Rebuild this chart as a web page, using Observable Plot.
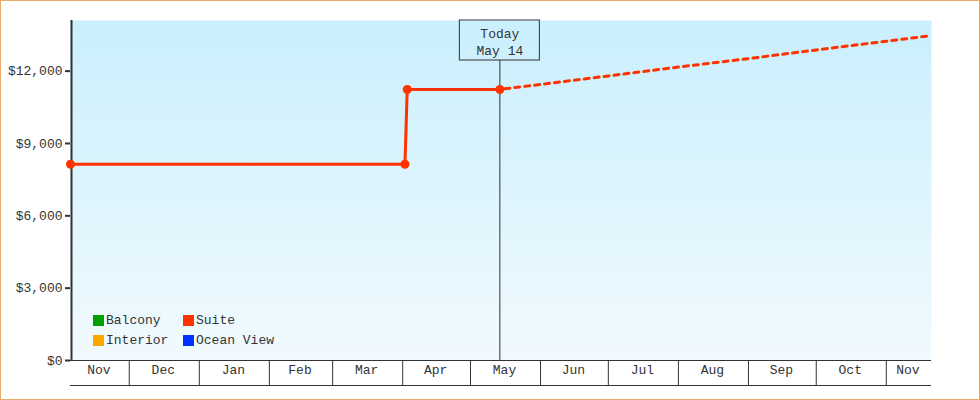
<!DOCTYPE html>
<html>
<head>
<meta charset="utf-8">
<script src="https://cdn.jsdelivr.net/npm/d3@7"></script>
<script src="https://cdn.jsdelivr.net/npm/@observablehq/plot@0.6"></script>
<style>
  body { margin: 0; background: #fff; }
  #wrap { position: relative; width: 980px; height: 400px; font-family: "Liberation Mono", monospace; color: #333; }
  #wrap svg { position: absolute; left: 0; top: 0; }
  #border { position: absolute; inset: 0; border: 1px solid #e9aa68; box-sizing: border-box; pointer-events: none; }
  #legend { position: absolute; left: 93px; top: 310px; display: grid; grid-template-columns: 90px auto; grid-auto-rows: 20px; font-size: 13px; color: #333; }
  #legend .item { display: flex; align-items: center; white-space: nowrap; }
  #legend .sw { display: inline-block; width: 11px; height: 11px; margin-right: 2px; }
</style>
</head>
<body>
<div id="wrap"><div id="legend"></div><div id="border"></div></div>
<script>
// ---- data ----
const seriesName = "Suite";
const seriesColor = "#ff3300";
const actualDates = ["2022-11-05", "2023-04-02", "2023-04-03", "2023-05-14"];
const actualPrices = [8140, 8140, 11240, 11240];
const forecastDates = ["2023-05-14", "2023-06-01", "2023-07-01", "2023-08-01", "2023-09-01", "2023-10-01", "2023-11-01", "2023-11-21"];
const forecastPrices = [11240, 11450, 11800, 12170, 12520, 12880, 13240, 13475];
const xDomain = ["2022-11-05", "2023-11-21"];
const yMax = 14100;
const yTicks = [0, 3000, 6000, 9000, 12000];
const monthStarts = ["2022-11-05", "2022-12-01", "2023-01-01", "2023-02-01", "2023-03-01", "2023-04-01", "2023-05-01", "2023-06-01", "2023-07-01", "2023-08-01", "2023-09-01", "2023-10-01", "2023-11-01"];
const monthLabels = ["Nov", "Dec", "Jan", "Feb", "Mar", "Apr", "May", "Jun", "Jul", "Aug", "Sep", "Oct", "Nov"];
const todayDate = "2023-05-14";
const todayLabel = "Today\nMay 14";
const legendNames = ["Balcony", "Suite", "Interior", "Ocean View"];
const legendColors = ["#00a000", "#ff3300", "#ffa500", "#0033ff"];

// ---- build ----
const D = s => new Date(s + "T00:00:00Z");
const actual = actualDates.map((d, i) => ({date: D(d), price: actualPrices[i]}));
const forecast = forecastDates.map((d, i) => ({date: D(d), price: forecastPrices[i]}));
const domainX = xDomain.map(D);
const starts = monthStarts.map(D);
const months = monthLabels.map((label, i) => {
  const a = starts[i];
  const b = i + 1 < starts.length ? starts[i + 1] : domainX[1];
  return {label, mid: new Date((+a + +b) / 2)};
});
const today = D(todayDate);

const fmt = d3.format(",");
const ink = "#333";
const font = "'Liberation Mono', monospace";

const chart = Plot.plot({
  width: 980,
  height: 400,
  marginLeft: 70,
  marginRight: 49,
  marginTop: 20,
  marginBottom: 40,
  style: {background: "transparent", fontFamily: font, fontSize: "13px", color: ink},
  x: {type: "utc", domain: domainX, axis: null},
  y: {domain: [0, yMax], axis: null},
  marks: [
    Plot.frame({fill: "url(#bgGrad)", stroke: "none"}),
    // x axis band
    Plot.ruleY([0], {stroke: ink, strokeWidth: 1}),
    Plot.ruleY([0], {stroke: ink, strokeWidth: 1, dy: 25}),
    Plot.ruleX(starts.slice(1), {stroke: ink, strokeWidth: 1, insetTop: 315, dy: 25}),
    Plot.text(months, {x: "mid", text: "label", frameAnchor: "bottom", dy: 13, dx: -1, fill: ink, fontSize: 13}),
    // y axis
    Plot.axisY(yTicks, {label: null, tickFormat: d => "$" + fmt(d), tickSize: 5, tickPadding: 3, strokeWidth: 2, stroke: ink, fill: ink, fontSize: 13}),
    Plot.ruleX([domainX[0]], {stroke: ink, strokeWidth: 2, dx: 1}),
    // today marker
    Plot.ruleX([today], {stroke: ink, strokeWidth: 1, insetTop: 40}),
    Plot.rect([today], {x1: d => d, x2: d => d, insetLeft: -40, insetRight: -40, insetBottom: 300, fill: "none", stroke: ink, strokeWidth: 1}),
    Plot.text([todayLabel], {x: () => today, text: d => d, frameAnchor: "top", dy: 21, lineAnchor: "middle", lineHeight: 1.3, fill: ink, fontSize: 13}),
    // series
    Plot.line(forecast, {x: "date", y: "price", stroke: seriesColor, strokeWidth: 3, strokeDasharray: "5,5", strokeDashoffset: -5}),
    Plot.line(actual, {x: "date", y: "price", stroke: seriesColor, strokeWidth: 3}),
    Plot.dot(actual, {x: "date", y: "price", r: 4.5, fill: seriesColor, stroke: "none"})
  ]
});

d3.select(chart).insert("defs", ":first-child").html(
  '<linearGradient id="bgGrad" x1="0" y1="0" x2="0" y2="1">' +
  '<stop offset="0" stop-color="#caeffd"/><stop offset="1" stop-color="#f1fafe"/></linearGradient>'
);

const wrap = document.getElementById("wrap");
wrap.insertBefore(chart, wrap.firstChild);

const legend = document.getElementById("legend");
legendNames.forEach((name, i) => {
  const item = document.createElement("div");
  item.className = "item";
  const sw = document.createElement("span");
  sw.className = "sw";
  sw.style.background = legendColors[i];
  item.appendChild(sw);
  item.appendChild(document.createTextNode(name));
  legend.appendChild(item);
});
</script>
</body>
</html>
